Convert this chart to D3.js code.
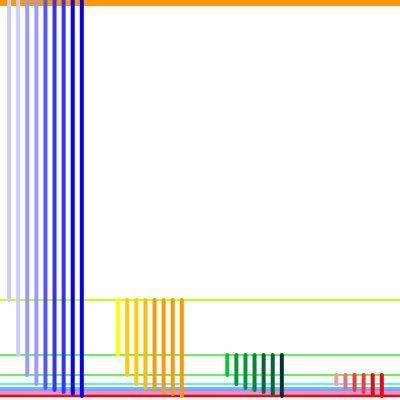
<!DOCTYPE html>
<html>
<head>
<meta charset="utf-8">
<script src="https://cdn.jsdelivr.net/npm/d3@7"></script>
<style>
  html, body { margin: 0; padding: 0; background: #fff; }
  svg { display: block; }
</style>
</head>
<body>
<div id="chart"></div>
<script>
// Level values (one per horizontal line)
const levels = [400, 100, 45, 25, 16, 12, 10, 8, 6, 4];
const levelColors = ["#ff9900", "#ccff00", "#33ee33", "#33ee33", "#00ffff", "#0066ff", "#3333cc", "#9933cc", "#dd2288", "#ff0000"];
const levelWidths = [12, 2, 1.5, 1.5, 1.5, 1.2, 1.2, 1.2, 1.2, 2.5];

// Groups (x bands); each group g has bars at slots g+1..9
const groups = ["A", "B", "C", "D"];
const slots = [1, 2, 3, 4, 5, 6, 7, 8, 9];
const groupColors = [
  ["#ccccff", "#ccccff", "#9999ff", "#9999ff", "#5555ff", "#3333ff", "#3333ff", "#0000ff", "#0000ff"],
  [null, "#ffff00", "#ffcc00", "#ffcc00", "#ffbb00", "#ff9900", "#ff9900", "#ff9900", "#ff9900"],
  [null, null, "#00cc33", "#009933", "#009933", "#008833", "#006633", "#006633", "#003333"],
  [null, null, null, "#ff9999", "#ff6666", "#ff3333", "#ff3333", "#ff0000", "#ff0000"]
];

const W = 400, H = 400;
const svg = d3.select("#chart").append("svg").attr("width", W).attr("height", H);

const y = d3.scaleLinear().domain([0, 400]).range([H, 0]);
const xBand = d3.scaleBand().domain(groups).range([0, W]).padding(0);
const xSlot = d3.scaleLinear().domain([0, 11]).range([0, xBand.bandwidth()]);

// horizontal level lines
svg.append("g").selectAll("line").data(levels).join("line")
  .attr("x1", 0).attr("x2", W)
  .attr("y1", d => y(d)).attr("y2", d => y(d))
  .attr("stroke", (d, i) => levelColors[i])
  .attr("stroke-width", (d, i) => levelWidths[i]);

// vertical bars
const bars = [];
groups.forEach((g, gi) => {
  slots.forEach((s, si) => {
    if (s > gi) {
      bars.push({ g, gi, s, from: levels[gi], to: levels[s], color: groupColors[gi][si] });
    }
  });
});

svg.append("g").selectAll("line").data(bars).join("line")
  .attr("x1", d => xBand(d.g) + xSlot(d.s))
  .attr("x2", d => xBand(d.g) + xSlot(d.s))
  .attr("y1", d => y(d.from))
  .attr("y2", d => y(d.to))
  .attr("stroke", d => d.color)
  .attr("stroke-width", 4)
  .attr("stroke-linecap", "round");
</script>
</body>
</html>
